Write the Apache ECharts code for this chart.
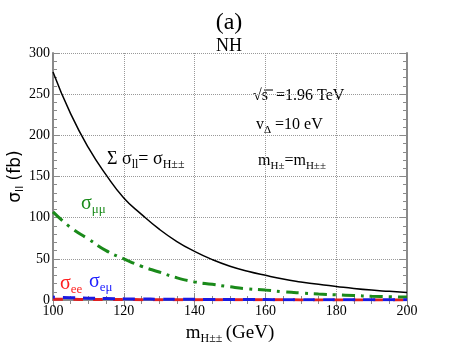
<!DOCTYPE html>
<html>
<head>
<meta charset="utf-8">
<script src="https://cdn.jsdelivr.net/npm/echarts@6/dist/echarts.min.js"></script>
<style>
  html, body { margin: 0; padding: 0; background: #fff; }
  #chart { width: 458px; height: 354px; }
</style>
</head>
<body>
<div id="chart"></div>
<script>
// m_H++ (GeV)
const massGeV = [100, 105, 110, 115, 120, 125, 130, 135, 140, 145, 150,
                 155, 160, 165, 170, 175, 180, 185, 190, 195, 200];
// sum sigma_ll = sigma_H++ (fb)
const sigmaTotal = [277, 226, 185, 152, 124, 104, 86, 71, 59, 49, 41,
                    35, 30, 25.5, 22, 19, 16.5, 14, 12, 10.5, 9];
// sigma_mumu (fb)
const sigmaMuMu = [107, 88, 74, 60, 50, 41, 34, 27, 22, 19, 16,
                   13.5, 12, 10, 8.5, 7.3, 6.3, 5.4, 4.6, 4, 3.5];
// sigma_emu (fb)
const sigmaEMu = [3.5, 2.8, 2.2, 1.8, 1.4, 1.2, 1.0, 0.9, 0.8, 0.7, 0.6,
                  0.5, 0.5, 0.4, 0.4, 0.35, 0.3, 0.3, 0.25, 0.25, 0.2];
// sigma_ee (fb)
const sigmaEE = [1.0, 0.8, 0.7, 0.6, 0.5, 0.45, 0.4, 0.35, 0.3, 0.3, 0.25,
                 0.2, 0.2, 0.2, 0.15, 0.15, 0.15, 0.1, 0.1, 0.1, 0.1];

const pairs = (ys) => massGeV.map((x, i) => [x, ys[i]]);

const serif = '"Liberation Serif", "DejaVu Serif", serif';
const axisGray = '#8a8a8a';

let myChart = echarts.init(document.getElementById("chart"));

const xCommon = {
  type: "value", min: 100, max: 200, interval: 20,
  axisLine: { show: true, lineStyle: { color: axisGray, width: 2 } },
  axisTick: { show: true, inside: true, length: 7, lineStyle: { color: axisGray, width: 1 } },
  minorTick: { show: true, splitNumber: 4, length: 4, lineStyle: { color: axisGray, width: 1 } }
};
const yCommon = {
  type: "value", min: 0, max: 300, interval: 50,
  axisLine: { show: true, lineStyle: { color: axisGray, width: 2 } },
  axisTick: { show: true, inside: true, length: 7, lineStyle: { color: axisGray, width: 1 } },
  minorTick: { show: true, splitNumber: 5, length: 4, lineStyle: { color: axisGray, width: 1 } }
};

// 下标文字样式
const sub = (size, color, drop) => ({ fontFamily: serif, fontSize: size, fill: color, padding: [drop, 0, 0, 0] });
const main = (size, color) => ({ fontFamily: serif, fontSize: size, fill: color });

myChart.setOption({
  animation: false,
  backgroundColor: "#fff",
  grid: { left: 53, right: 51, top: 53, bottom: 54, containLabel: false, outerBoundsMode: "none" },
  title: [
    { text: "(a)", left: "center", top: 6, textStyle: { fontFamily: serif, fontSize: 24, fontWeight: "normal", color: "#000" } },
    { text: "NH", left: "center", top: 32, textStyle: { fontFamily: serif, fontSize: 18, fontWeight: "normal", color: "#000" } }
  ],
  xAxis: [
    Object.assign({}, xCommon, {
      position: "bottom",
      axisLabel: { fontFamily: serif, fontSize: 14, color: "#000", margin: 4 },
      splitLine: { show: true, lineStyle: { color: "#999", type: "dotted", width: 1 } },
      name: "{m|m}{s|H±±} {m|(GeV)}",
      nameLocation: "middle",
      nameGap: 21,
      nameMoveOverlap: false,
      nameTextStyle: {
        rich: {
          m: { fontFamily: serif, fontSize: 19, color: "#000" },
          s: { fontFamily: serif, fontSize: 12, color: "#000", padding: [12, 0, 0, 0] }
        }
      }
    }),
    Object.assign({}, xCommon, {
      position: "top",
      axisLabel: { show: false },
      splitLine: { show: false }
    })
  ],
  yAxis: [
    Object.assign({}, yCommon, {
      position: "left",
      axisLabel: { fontFamily: serif, fontSize: 14, color: "#000", margin: 3 },
      splitLine: { show: true, lineStyle: { color: "#999", type: "dotted", width: 1 } },
      name: "{m|σ}{s|ll}{m| (fb)}",
      nameLocation: "middle",
      nameRotate: 90,
      nameGap: 27,
      nameMoveOverlap: false,
      nameTextStyle: {
        rich: {
          m: { fontFamily: '"DejaVu Sans", sans-serif', fontSize: 17, color: "#000" },
          s: { fontFamily: '"DejaVu Sans", sans-serif', fontSize: 11, color: "#000", padding: [10, 0, 0, 0] }
        }
      }
    }),
    Object.assign({}, yCommon, {
      position: "right",
      axisLabel: { show: false },
      splitLine: { show: false }
    })
  ],
  series: [
    {
      name: "total", type: "line", data: pairs(sigmaTotal),
      smooth: true, showSymbol: false, symbol: "none",
      lineStyle: { color: "#000", width: 1.5 }, z: 5
    },
    {
      name: "mumu", type: "line", data: pairs(sigmaMuMu),
      smooth: true, showSymbol: false, symbol: "none",
      lineStyle: { color: "#1a8a1a", width: 3, type: [13, 6, 3, 6] }, z: 4
    },
    {
      name: "ee", type: "line", data: pairs(sigmaEE),
      smooth: true, showSymbol: false, symbol: "none",
      lineStyle: { color: "#e02020", width: 3, type: [10, 10] }, z: 3
    },
    {
      name: "emu", type: "line", data: pairs(sigmaEMu),
      smooth: true, showSymbol: false, symbol: "none",
      lineStyle: { color: "#1a1ae0", width: 3, type: [12, 8], dashOffset: 10 }, z: 4
    }
  ],
  graphic: [
    {
      type: "text", left: 107, top: 150,
      style: {
        text: "{m|Σ σ}{s|ll}{m|= σ}{s|H±±}",
        rich: { m: main(18, "#000"), s: sub(12, "#000", 11) }
      }
    },
    {
      type: "text", left: 253, top: 88,
      style: {
        text: "{m|√s  =1.96 TeV}",
        rich: { m: main(16, "#000") }
      }
    },
    {
      type: "line", shape: { x1: 264, y1: 90, x2: 273, y2: 90 },
      style: { stroke: "#000", lineWidth: 1 }
    },
    {
      type: "text", left: 256, top: 117,
      style: {
        text: "{m|v}{s|Δ}{m| =10 eV}",
        rich: { m: main(16, "#000"), s: sub(11, "#000", 11) }
      }
    },
    {
      type: "text", left: 258, top: 153,
      style: {
        text: "{m|m}{s|H±}{m|=m}{s|H±±}",
        rich: { m: main(16, "#000"), s: sub(11, "#000", 11) }
      }
    },
    {
      type: "text", left: 81, top: 194,
      style: {
        text: "{m|σ}{s|μμ}",
        rich: { m: main(20, "#1a8a1a"), s: sub(13, "#1a8a1a", 12) }
      }
    },
    {
      type: "text", left: 60, top: 274,
      style: {
        text: "{m|σ}{s|ee}",
        rich: { m: main(20, "#ff2020"), s: sub(13, "#ff2020", 12) }
      }
    },
    {
      type: "text", left: 89, top: 272,
      style: {
        text: "{m|σ}{s|eμ}",
        rich: { m: main(20, "#2020ff"), s: sub(13, "#2020ff", 12) }
      }
    }
  ]
});
</script>
</body>
</html>
